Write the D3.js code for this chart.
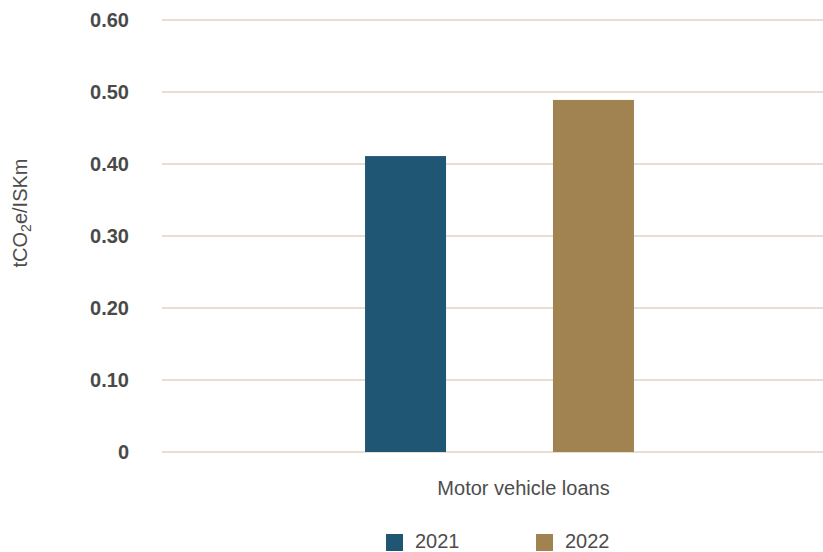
<!DOCTYPE html>
<html>
<head>
<meta charset="utf-8">
<script src="https://cdn.jsdelivr.net/npm/d3@7"></script>
<style>
  html, body { margin: 0; padding: 0; background: #fff; }
  svg { display: block; font-family: "Liberation Sans", Arial, Helvetica, sans-serif; }
</style>
</head>
<body>
<svg id="chart" width="823" height="552"></svg>
<script>
// Emission intensity of motor vehicle loans, tCO2e per ISK million
const categories = ["Motor vehicle loans"];
const seriesNames = ["2021", "2022"];
const values2021 = [0.411];
const values2022 = [0.489];
const tickValues = [0, 0.1, 0.2, 0.3, 0.4, 0.5, 0.6];
const tickLabels = ["0", "0.10", "0.20", "0.30", "0.40", "0.50", "0.60"];
const seriesColors = ["#1e5673", "#a08351"];

const seriesValues = [values2021, values2022];

const svg = d3.select("#chart");
const margin = { left: 162, right: -14, top: 20, bottom: 100 };
const W = 823, H = 552;

const y = d3.scaleLinear()
  .domain([0, 0.6])
  .range([H - margin.bottom, margin.top]);

const x0 = d3.scaleBand()
  .domain(categories)
  .range([margin.left, W - margin.right])
  .paddingInner(0)
  .paddingOuter(0.755);

const x1 = d3.scaleBand()
  .domain(seriesNames)
  .range([0, x0.bandwidth()])
  .paddingInner(0.569)
  .paddingOuter(0);

// Horizontal gridlines
svg.append("g")
  .selectAll("line")
  .data(tickValues)
  .join("line")
  .attr("x1", margin.left)
  .attr("x2", W - margin.right)
  .attr("y1", d => y(d))
  .attr("y2", d => y(d))
  .attr("stroke", "#e8dfd2")
  .attr("stroke-width", 2);

// Y axis tick labels
const yAxis = d3.axisLeft(y)
  .tickValues(tickValues)
  .tickFormat((d, i) => tickLabels[i])
  .tickSize(0)
  .tickPadding(0);

const gy = svg.append("g")
  .attr("transform", "translate(129,0)")
  .call(yAxis);
gy.select(".domain").remove();
gy.selectAll("text")
  .attr("fill", "#4a4a4a")
  .attr("font-size", 20)
  .attr("font-weight", "bold")
  .attr("font-family", "'Liberation Sans', Arial, sans-serif");

// Bars
const groups = svg.append("g")
  .selectAll("g")
  .data(categories)
  .join("g")
  .attr("transform", d => `translate(${x0(d)},0)`);

groups.selectAll("rect")
  .data((d, ci) => seriesNames.map((s, si) => ({ s, v: seriesValues[si][ci], c: seriesColors[si] })))
  .join("rect")
  .attr("x", d => x1(d.s))
  .attr("width", x1.bandwidth())
  .attr("y", d => y(d.v))
  .attr("height", d => y(0) - y(d.v))
  .attr("fill", d => d.c);

// Category label
svg.append("g")
  .selectAll("text")
  .data(categories)
  .join("text")
  .attr("x", d => x0(d) + x0.bandwidth() / 2 + 24)
  .attr("y", 495)
  .attr("text-anchor", "middle")
  .attr("font-size", 20)
  .attr("fill", "#4d4d4d")
  .text(d => d);

// Y axis title with subscript
const yTitle = svg.append("text")
  .attr("transform", "translate(27,213) rotate(-90)")
  .attr("text-anchor", "middle")
  .attr("font-size", 20)
  .attr("fill", "#4d4d4d");
yTitle.append("tspan").text("tCO");
yTitle.append("tspan").attr("font-size", 14).attr("dy", 4).text("2");
yTitle.append("tspan").attr("dy", -4).text("e/ISKm");

// Legend
const legend = svg.append("g")
  .selectAll("g")
  .data(seriesNames)
  .join("g")
  .attr("transform", (d, i) => `translate(${386 + i * 150},534)`);

legend.append("rect")
  .attr("width", 17)
  .attr("height", 17)
  .attr("fill", (d, i) => seriesColors[i]);

legend.append("text")
  .attr("x", 29)
  .attr("y", 14)
  .attr("font-size", 20)
  .attr("fill", "#4d4d4d")
  .text(d => d);
</script>
</body>
</html>
